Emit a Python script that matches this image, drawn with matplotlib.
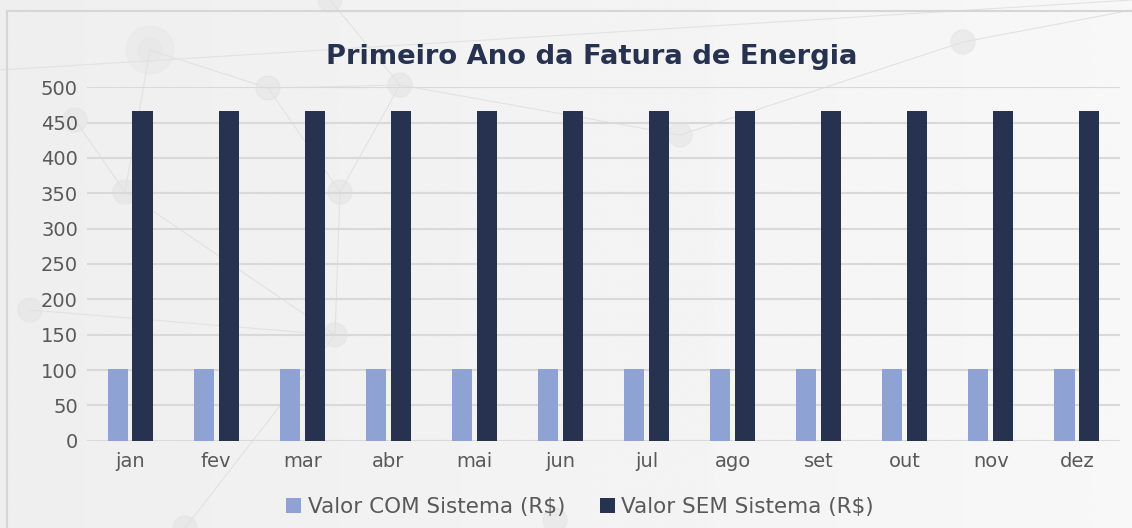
import matplotlib
matplotlib.use("Agg")
import matplotlib.pyplot as plt
import numpy as np
from matplotlib.patches import Circle
from matplotlib.lines import Line2D

months = ["jan", "fev", "mar", "abr", "mai", "jun", "jul", "ago", "set", "out", "nov", "dez"]
valor_com = [101, 101, 101, 101, 101, 101, 101, 101, 101, 101, 101, 101]
valor_sem = [467, 467, 467, 467, 467, 467, 467, 467, 467, 467, 467, 467]
series_labels = ["Valor COM Sistema (R$)", "Valor SEM Sistema (R$)"]
title = "Primeiro Ano da Fatura de Energia"
yticks = [0, 50, 100, 150, 200, 250, 300, 350, 400, 450, 500]

plt.rcParams['font.family'] = ['DejaVu Sans']

W, H = 1132, 528
fig = plt.figure(figsize=(W / 100, H / 100), dpi=100)
fig.patch.set_facecolor("#efefef")

# decorative background (faint network pattern)
bg = fig.add_axes([0, 0, 1, 1], zorder=-10)
bg.set_xlim(0, W); bg.set_ylim(H, 0); bg.axis("off")
grad = np.linspace(0, 1, 256)
img = np.outer(np.ones(256), grad)
bg.imshow(0.935 + 0.035 * img, cmap="gray", vmin=0, vmax=1, extent=[0, W, H, 0], aspect="auto", zorder=-11)
nodes = [(150, 50), (268, 88), (330, 0), (400, 85), (125, 192), (340, 192), (335, 335), (555, 520),
         (963, 42), (75, 120), (680, 135), (185, 528), (30, 310)]
for (x, y) in nodes:
    bg.add_patch(Circle((x, y), 12, color="#e4e4e4", alpha=0.6, zorder=-9))
bg.add_patch(Circle((150, 50), 24, color="#e8e8e8", alpha=0.5, zorder=-9))
edges = [(0, 1), (1, 3), (0, 4), (4, 5), (1, 5), (3, 5), (5, 6), (2, 3), (4, 6), (6, 11), (9, 4), (8, 10), (3, 10), (12, 6)]
for a, b in edges:
    (x1, y1), (x2, y2) = nodes[a], nodes[b]
    bg.add_line(Line2D([x1, x2], [y1, y2], color="#e2e2e2", lw=0.8, zorder=-9))
bg.add_line(Line2D([0, 1132], [70, 0], color="#e2e2e2", lw=0.8, zorder=-9))
bg.add_line(Line2D([963, 1132], [42, 10], color="#e2e2e2", lw=0.8, zorder=-9))
# chart frame
bg.add_line(Line2D([7, 1132], [11, 11], color="#d6d6d6", lw=1.5, zorder=-8))
bg.add_line(Line2D([7, 7], [11, 528], color="#d6d6d6", lw=1.5, zorder=-8))

ax = fig.add_axes([87 / W, 1 - 440.7 / H, (1120 - 87) / W, (440.7 - 87.3) / H])
ax.patch.set_alpha(0)

x = np.arange(len(months))
w = 0.233
off = 0.145
ax.bar(x - off, valor_com, width=w, color="#8FA2D4", label=series_labels[0], zorder=3)
ax.bar(x + off, valor_sem, width=w, color="#263250", label=series_labels[1], zorder=3)

ax.set_xlim(-0.5, len(months) - 0.5)
ax.set_ylim(0, 500)
ax.set_yticks(yticks)
ax.set_xticks(x)
ax.set_xticklabels(months)
ax.yaxis.grid(True, color="#d9d9d9", lw=1.5, zorder=0)
ax.set_axisbelow(True)
for s in ax.spines.values():
    s.set_visible(False)
ax.tick_params(axis="both", length=0, labelsize=14, labelcolor="#595959")
ax.tick_params(axis="y", pad=6.5)
ax.tick_params(axis="x", pad=8)

fig.text(592 / W, 1 - 64 / H, title, ha="center", va="baseline", fontsize=19.7,
         fontweight="bold", color="#263250")

handles, labels = ax.get_legend_handles_labels()
leg = fig.legend(handles, labels, loc="center", bbox_to_anchor=(580 / W, 1 - 507 / H), ncol=2,
                 frameon=False, fontsize=15.5, labelcolor="#595959", handlelength=0.7, handleheight=0.7,
                 handletextpad=0.3, columnspacing=1.6)

fig.savefig("out.png", dpi=100, facecolor=fig.get_facecolor())
